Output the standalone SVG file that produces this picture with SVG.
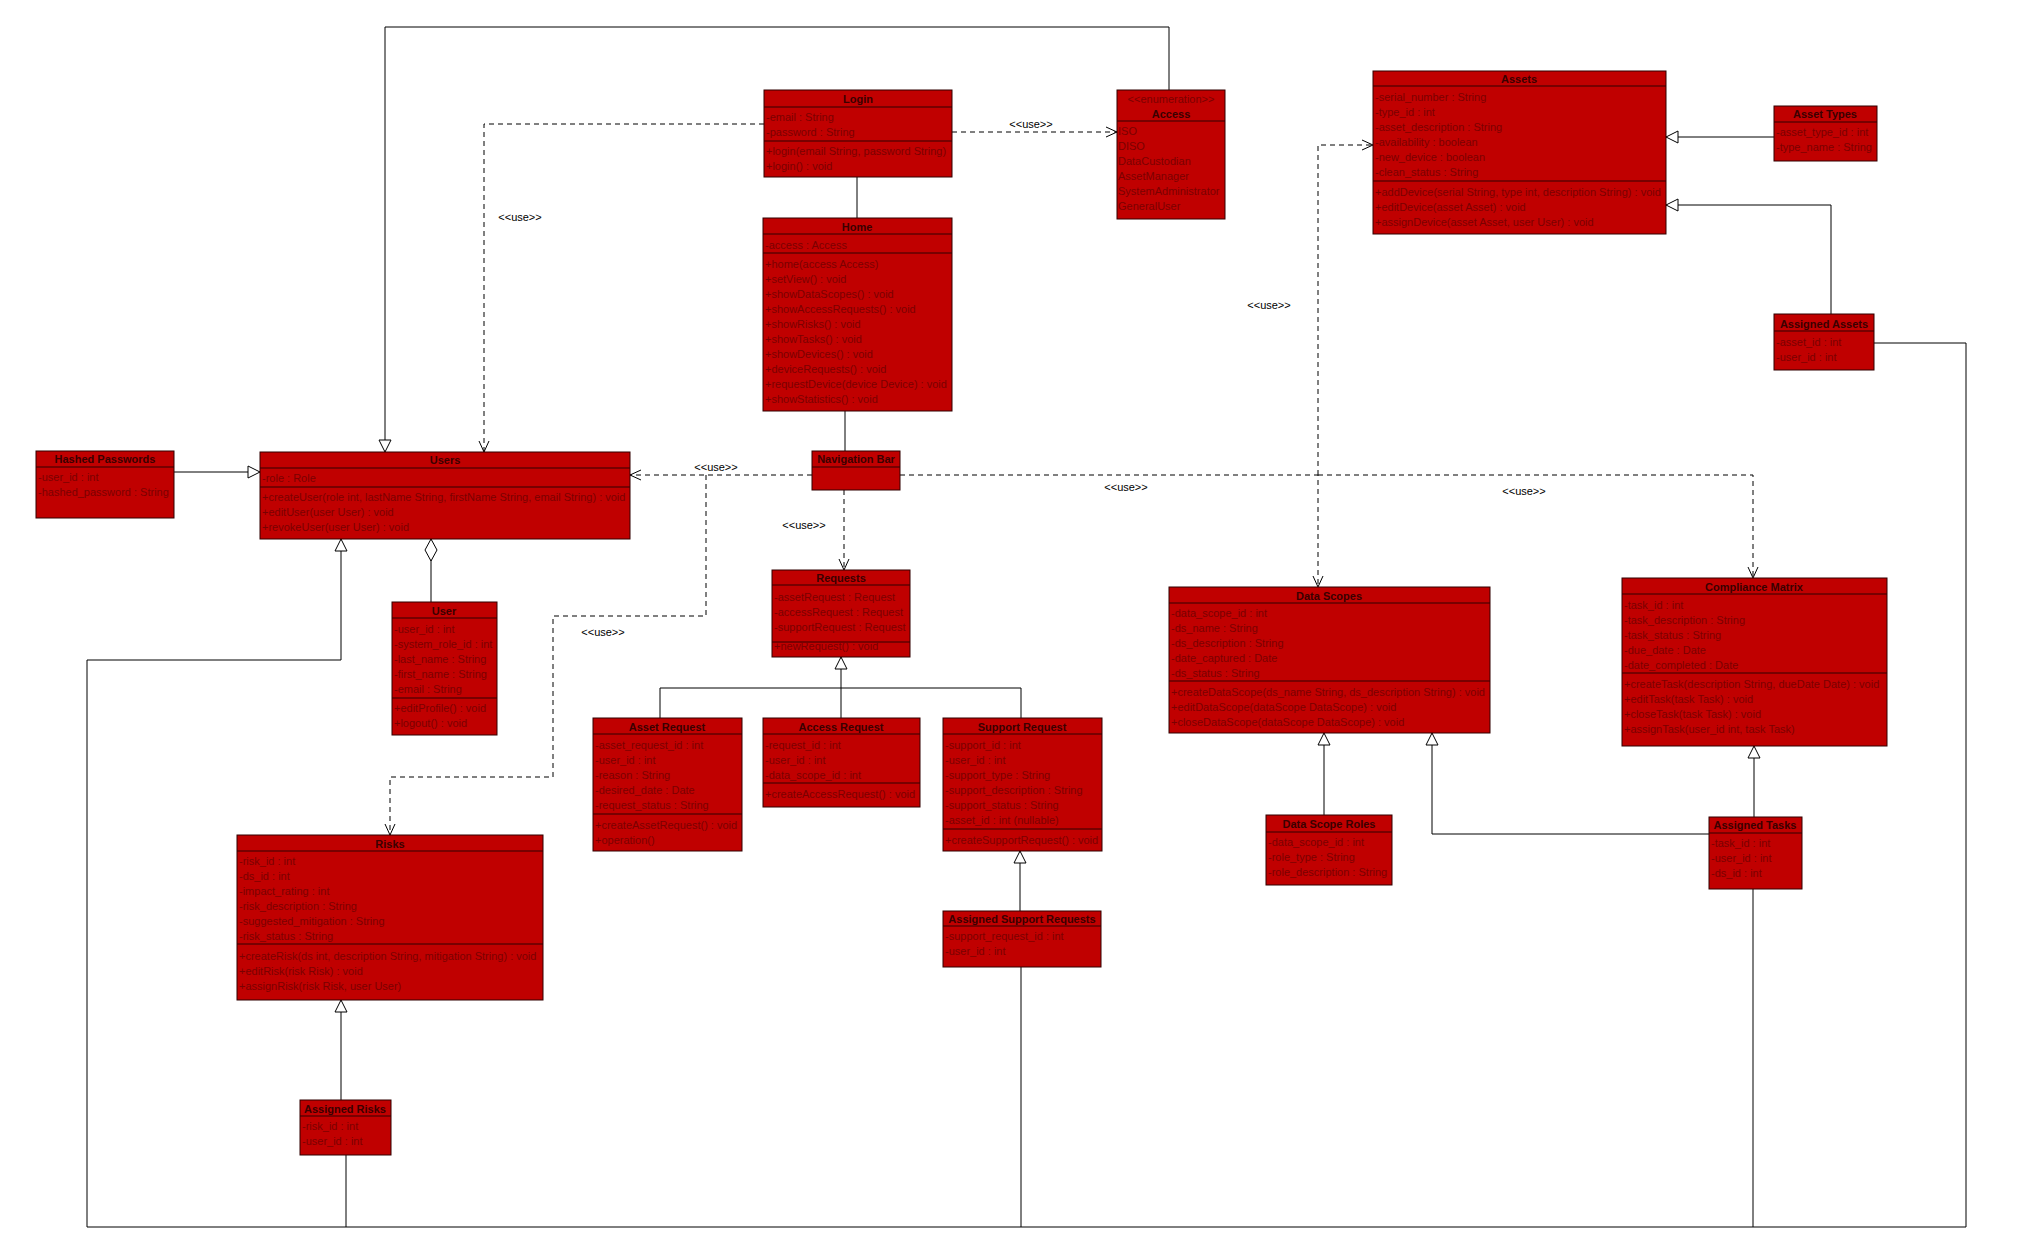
<svg xmlns="http://www.w3.org/2000/svg" width="2017" height="1260" viewBox="0 0 2017 1260">
<style>
.box{fill:#C00000;stroke:#300000;stroke-width:1}
.dv{stroke:#300000;stroke-width:1}
.t{font-family:"Liberation Sans",Arial,sans-serif;font-size:11px;font-weight:bold;fill:#3a0000;text-anchor:middle}
.e{font-family:"Liberation Sans",Arial,sans-serif;font-size:11px;fill:#7a0000;text-anchor:middle}
.m{font-family:"Liberation Sans",Arial,sans-serif;font-size:11px;fill:#7a0000}
.lbl{font-family:"Liberation Sans",Arial,sans-serif;font-size:11px;fill:#000;text-anchor:middle}
.ln{fill:none;stroke:#000;stroke-width:1}
.dash{stroke-dasharray:5,4}
.tri{marker-end:url(#tri)}
.opn{marker-end:url(#open)}
</style>
<defs>
<marker id="tri" markerUnits="userSpaceOnUse" markerWidth="14" markerHeight="14" refX="12" refY="6" orient="auto" overflow="visible">
<path d="M0,0 L12,6 L0,12 Z" fill="#fff" stroke="#000" stroke-width="1"/>
</marker>
<marker id="open" markerUnits="userSpaceOnUse" markerWidth="13" markerHeight="12" refX="11" refY="5" orient="auto" overflow="visible">
<path d="M0,0 L11,5 L0,10" fill="none" stroke="#000" stroke-width="1"/>
</marker>
<marker id="dia" markerUnits="userSpaceOnUse" markerWidth="24" markerHeight="14" refX="22" refY="6" orient="auto" overflow="visible">
<path d="M0,6 L11,0 L22,6 L11,12 Z" fill="#fff" stroke="#000" stroke-width="1"/>
</marker>
</defs>
<rect width="2017" height="1260" fill="#fff"/>

<g id="connectors">
<polyline class="ln tri" points="1169,90 1169,27 385,27 385,452"/>
<polyline class="ln dash opn" points="764,124 484,124 484,452"/>
<polyline class="ln dash opn" points="952,132 1117,132"/>
<polyline class="ln" points="857,177 857,218"/>
<polyline class="ln" points="845,411 845,451"/>
<polyline class="ln dash opn" points="844,490 844,570"/>
<polyline class="ln dash opn" points="812,475 630,475"/>
<polyline class="ln dash opn" points="706,475 706,616 553,616 553,777 390,777 390,835"/>
<polyline class="ln dash opn" points="900,475 1318,475 1318,587"/>
<polyline class="ln dash opn" points="1318,475 1318,145 1373,145"/>
<polyline class="ln dash opn" points="1318,475 1753,475 1753,578"/>
<polyline class="ln tri" points="174,472 260,472"/>
<polyline class="ln" points="431,602 431,539" marker-end="url(#dia)"/>
<polyline class="ln tri" points="1874,343 1966,343 1966,1227 87,1227 87,660 341,660 341,539"/>
<polyline class="ln" points="346,1155 346,1227"/>
<polyline class="ln" points="1021,967 1021,1227"/>
<polyline class="ln" points="1753,889 1753,1227"/>
<polyline class="ln tri" points="841,718 841,657"/>
<polyline class="ln" points="660,718 660,688 1021,688 1021,718"/>
<polyline class="ln tri" points="1020,911 1020,851"/>
<polyline class="ln tri" points="1774,137 1666,137"/>
<polyline class="ln tri" points="1831,314 1831,205 1666,205"/>
<polyline class="ln tri" points="1324,815 1324,733"/>
<polyline class="ln tri" points="1709,834 1432,834 1432,733"/>
<polyline class="ln tri" points="1754,817 1754,746"/>
<polyline class="ln tri" points="341,1100 341,1000"/>
<text class="lbl" x="1031" y="128">&lt;&lt;use&gt;&gt;</text>
<text class="lbl" x="520" y="221">&lt;&lt;use&gt;&gt;</text>
<text class="lbl" x="716" y="471">&lt;&lt;use&gt;&gt;</text>
<text class="lbl" x="804" y="529">&lt;&lt;use&gt;&gt;</text>
<text class="lbl" x="603" y="636">&lt;&lt;use&gt;&gt;</text>
<text class="lbl" x="1126" y="491">&lt;&lt;use&gt;&gt;</text>
<text class="lbl" x="1269" y="309">&lt;&lt;use&gt;&gt;</text>
<text class="lbl" x="1524" y="495">&lt;&lt;use&gt;&gt;</text>
</g>

<g id="login">
<rect class="box" x="764" y="90" width="188" height="87"/>
<line class="dv" x1="764" y1="107" x2="952" y2="107"/>
<line class="dv" x1="764" y1="141" x2="952" y2="141"/>
<text class="t" x="858" y="103">Login</text>
<text class="m" x="766" y="121">-email : String</text>
<text class="m" x="766" y="136">-password : String</text>
<text class="m" x="766" y="155">+login(email String, password String)</text>
<text class="m" x="766" y="170">+login() : void</text>
</g>

<g id="access">
<rect class="box" x="1117" y="90" width="108" height="129"/>
<line class="dv" x1="1117" y1="121" x2="1225" y2="121"/>
<text class="e" x="1171" y="103">&lt;&lt;enumeration&gt;&gt;</text>
<text class="t" x="1171" y="118">Access</text>
<text class="m" x="1118" y="135">ISO</text>
<text class="m" x="1118" y="150">DISO</text>
<text class="m" x="1118" y="165">DataCustodian</text>
<text class="m" x="1118" y="180">AssetManager</text>
<text class="m" x="1118" y="195">SystemAdministrator</text>
<text class="m" x="1118" y="210">GeneralUser</text>
</g>

<g id="home">
<rect class="box" x="763" y="218" width="189" height="193"/>
<line class="dv" x1="763" y1="234" x2="952" y2="234"/>
<line class="dv" x1="763" y1="253" x2="952" y2="253"/>
<text class="t" x="857" y="231">Home</text>
<text class="m" x="765" y="249">-access : Access</text>
<text class="m" x="765" y="268">+home(access Access)</text>
<text class="m" x="765" y="283">+setView() : void</text>
<text class="m" x="765" y="298">+showDataScopes() : void</text>
<text class="m" x="765" y="313">+showAccessRequests() : void</text>
<text class="m" x="765" y="328">+showRisks() : void</text>
<text class="m" x="765" y="343">+showTasks() : void</text>
<text class="m" x="765" y="358">+showDevices() : void</text>
<text class="m" x="765" y="373">+deviceRequests() : void</text>
<text class="m" x="765" y="388">+requestDevice(device Device) : void</text>
<text class="m" x="765" y="403">+showStatistics() : void</text>
</g>

<g id="assets">
<rect class="box" x="1373" y="71" width="293" height="163"/>
<line class="dv" x1="1373" y1="86" x2="1666" y2="86"/>
<line class="dv" x1="1373" y1="181" x2="1666" y2="181"/>
<text class="t" x="1519" y="83">Assets</text>
<text class="m" x="1375" y="101">-serial_number : String</text>
<text class="m" x="1375" y="116">-type_id : int</text>
<text class="m" x="1375" y="131">-asset_description : String</text>
<text class="m" x="1375" y="146">-availability : boolean</text>
<text class="m" x="1375" y="161">-new_device : boolean</text>
<text class="m" x="1375" y="176">-clean_status : String</text>
<text class="m" x="1375" y="196">+addDevice(serial String, type int, description String) : void</text>
<text class="m" x="1375" y="211">+editDevice(asset Asset) : void</text>
<text class="m" x="1375" y="226">+assignDevice(asset Asset, user User) : void</text>
</g>

<g id="asset-types">
<rect class="box" x="1774" y="106" width="103" height="55"/>
<line class="dv" x1="1774" y1="122" x2="1877" y2="122"/>
<text class="t" x="1825" y="118">Asset Types</text>
<text class="m" x="1776" y="136">-asset_type_id : int</text>
<text class="m" x="1776" y="151">-type_name : String</text>
</g>

<g id="assigned-assets">
<rect class="box" x="1774" y="314" width="100" height="56"/>
<line class="dv" x1="1774" y1="331" x2="1874" y2="331"/>
<text class="t" x="1824" y="328">Assigned Assets</text>
<text class="m" x="1776" y="346">-asset_id : int</text>
<text class="m" x="1776" y="361">-user_id : int</text>
</g>

<g id="hashed-passwords">
<rect class="box" x="36" y="451" width="138" height="67"/>
<line class="dv" x1="36" y1="467" x2="174" y2="467"/>
<text class="t" x="105" y="463">Hashed Passwords</text>
<text class="m" x="38" y="481">-user_id : int</text>
<text class="m" x="38" y="496">-hashed_password : String</text>
</g>

<g id="users">
<rect class="box" x="260" y="452" width="370" height="87"/>
<line class="dv" x1="260" y1="468" x2="630" y2="468"/>
<line class="dv" x1="260" y1="487" x2="630" y2="487"/>
<text class="t" x="445" y="464">Users</text>
<text class="m" x="262" y="482">-role : Role</text>
<text class="m" x="262" y="501">+createUser(role int, lastName String, firstName String, email String) : void</text>
<text class="m" x="262" y="516">+editUser(user User) : void</text>
<text class="m" x="262" y="531">+revokeUser(user User) : void</text>
</g>

<g id="user">
<rect class="box" x="392" y="602" width="105" height="133"/>
<line class="dv" x1="392" y1="618" x2="497" y2="618"/>
<line class="dv" x1="392" y1="698" x2="497" y2="698"/>
<text class="t" x="444" y="615">User</text>
<text class="m" x="394" y="633">-user_id : int</text>
<text class="m" x="394" y="648">-system_role_id : int</text>
<text class="m" x="394" y="663">-last_name : String</text>
<text class="m" x="394" y="678">-first_name : String</text>
<text class="m" x="394" y="693">-email : String</text>
<text class="m" x="394" y="712">+editProfile() : void</text>
<text class="m" x="394" y="727">+logout() : void</text>
</g>

<g id="navigation-bar">
<rect class="box" x="812" y="451" width="88" height="39"/>
<line class="dv" x1="812" y1="467" x2="900" y2="467"/>
<text class="t" x="856" y="463">Navigation Bar</text>
</g>

<g id="requests">
<rect class="box" x="772" y="570" width="138" height="87"/>
<line class="dv" x1="772" y1="585" x2="910" y2="585"/>
<line class="dv" x1="772" y1="642" x2="910" y2="642"/>
<text class="t" x="841" y="582">Requests</text>
<text class="m" x="774" y="601">-assetRequest : Request</text>
<text class="m" x="774" y="616">-accessRequest : Request</text>
<text class="m" x="774" y="631">-supportRequest : Request</text>
<text class="m" x="774" y="650">+newRequest() : void</text>
</g>

<g id="asset-request">
<rect class="box" x="593" y="718" width="149" height="133"/>
<line class="dv" x1="593" y1="734" x2="742" y2="734"/>
<line class="dv" x1="593" y1="814" x2="742" y2="814"/>
<text class="t" x="667" y="731">Asset Request</text>
<text class="m" x="595" y="749">-asset_request_id : int</text>
<text class="m" x="595" y="764">-user_id : int</text>
<text class="m" x="595" y="779">-reason : String</text>
<text class="m" x="595" y="794">-desired_date : Date</text>
<text class="m" x="595" y="809">-request_status : String</text>
<text class="m" x="595" y="829">+createAssetRequest() : void</text>
<text class="m" x="595" y="844">+operation()</text>
</g>

<g id="access-request">
<rect class="box" x="763" y="718" width="157" height="89"/>
<line class="dv" x1="763" y1="734" x2="920" y2="734"/>
<line class="dv" x1="763" y1="783" x2="920" y2="783"/>
<text class="t" x="841" y="731">Access Request</text>
<text class="m" x="765" y="749">-request_id : int</text>
<text class="m" x="765" y="764">-user_id : int</text>
<text class="m" x="765" y="779">-data_scope_id : int</text>
<text class="m" x="765" y="798">+createAccessRequest() : void</text>
</g>

<g id="support-request">
<rect class="box" x="943" y="718" width="159" height="133"/>
<line class="dv" x1="943" y1="734" x2="1102" y2="734"/>
<line class="dv" x1="943" y1="829" x2="1102" y2="829"/>
<text class="t" x="1022" y="731">Support Request</text>
<text class="m" x="945" y="749">-support_id : int</text>
<text class="m" x="945" y="764">-user_id : int</text>
<text class="m" x="945" y="779">-support_type : String</text>
<text class="m" x="945" y="794">-support_description : String</text>
<text class="m" x="945" y="809">-support_status : String</text>
<text class="m" x="945" y="824">-asset_id : int (nullable)</text>
<text class="m" x="945" y="844">+createSupportRequest() : void</text>
</g>

<g id="assigned-support-requests">
<rect class="box" x="943" y="911" width="158" height="56"/>
<line class="dv" x1="943" y1="926" x2="1101" y2="926"/>
<text class="t" x="1022" y="923">Assigned Support Requests</text>
<text class="m" x="945" y="940">-support_request_id : int</text>
<text class="m" x="945" y="955">-user_id : int</text>
</g>

<g id="data-scopes">
<rect class="box" x="1169" y="587" width="321" height="146"/>
<line class="dv" x1="1169" y1="603" x2="1490" y2="603"/>
<line class="dv" x1="1169" y1="681" x2="1490" y2="681"/>
<text class="t" x="1329" y="600">Data Scopes</text>
<text class="m" x="1171" y="617">-data_scope_id : int</text>
<text class="m" x="1171" y="632">-ds_name : String</text>
<text class="m" x="1171" y="647">-ds_description : String</text>
<text class="m" x="1171" y="662">-date_captured : Date</text>
<text class="m" x="1171" y="677">-ds_status : String</text>
<text class="m" x="1171" y="696">+createDataScope(ds_name String, ds_description String) : void</text>
<text class="m" x="1171" y="711">+editDataScope(dataScope DataScope) : void</text>
<text class="m" x="1171" y="726">+closeDataScope(dataScope DataScope) : void</text>
</g>

<g id="data-scope-roles">
<rect class="box" x="1266" y="815" width="126" height="70"/>
<line class="dv" x1="1266" y1="832" x2="1392" y2="832"/>
<text class="t" x="1329" y="828">Data Scope Roles</text>
<text class="m" x="1268" y="846">-data_scope_id : int</text>
<text class="m" x="1268" y="861">-role_type : String</text>
<text class="m" x="1268" y="876">-role_description : String</text>
</g>

<g id="compliance-matrix">
<rect class="box" x="1622" y="578" width="265" height="168"/>
<line class="dv" x1="1622" y1="594" x2="1887" y2="594"/>
<line class="dv" x1="1622" y1="673" x2="1887" y2="673"/>
<text class="t" x="1754" y="591">Compliance Matrix</text>
<text class="m" x="1624" y="609">-task_id : int</text>
<text class="m" x="1624" y="624">-task_description : String</text>
<text class="m" x="1624" y="639">-task_status : String</text>
<text class="m" x="1624" y="654">-due_date : Date</text>
<text class="m" x="1624" y="669">-date_completed : Date</text>
<text class="m" x="1624" y="688">+createTask(description String, dueDate Date) : void</text>
<text class="m" x="1624" y="703">+editTask(task Task) : void</text>
<text class="m" x="1624" y="718">+closeTask(task Task) : void</text>
<text class="m" x="1624" y="733">+assignTask(user_id int, task Task)</text>
</g>

<g id="assigned-tasks">
<rect class="box" x="1709" y="817" width="93" height="72"/>
<line class="dv" x1="1709" y1="833" x2="1802" y2="833"/>
<text class="t" x="1755" y="829">Assigned Tasks</text>
<text class="m" x="1711" y="847">-task_id : int</text>
<text class="m" x="1711" y="862">-user_id : int</text>
<text class="m" x="1711" y="877">-ds_id : int</text>
</g>

<g id="risks">
<rect class="box" x="237" y="835" width="306" height="165"/>
<line class="dv" x1="237" y1="851" x2="543" y2="851"/>
<line class="dv" x1="237" y1="944" x2="543" y2="944"/>
<text class="t" x="390" y="848">Risks</text>
<text class="m" x="239" y="865">-risk_id : int</text>
<text class="m" x="239" y="880">-ds_id : int</text>
<text class="m" x="239" y="895">-impact_rating : int</text>
<text class="m" x="239" y="910">-risk_description : String</text>
<text class="m" x="239" y="925">-suggested_mitigation : String</text>
<text class="m" x="239" y="940">-risk_status : String</text>
<text class="m" x="239" y="960">+createRisk(ds int, description String, mitigation String) : void</text>
<text class="m" x="239" y="975">+editRisk(risk Risk) : void</text>
<text class="m" x="239" y="990">+assignRisk(risk Risk, user User)</text>
</g>

<g id="assigned-risks">
<rect class="box" x="300" y="1100" width="91" height="55"/>
<line class="dv" x1="300" y1="1116" x2="391" y2="1116"/>
<text class="t" x="345" y="1113">Assigned Risks</text>
<text class="m" x="302" y="1130">-risk_id : int</text>
<text class="m" x="302" y="1145">-user_id : int</text>
</g>
</svg>
